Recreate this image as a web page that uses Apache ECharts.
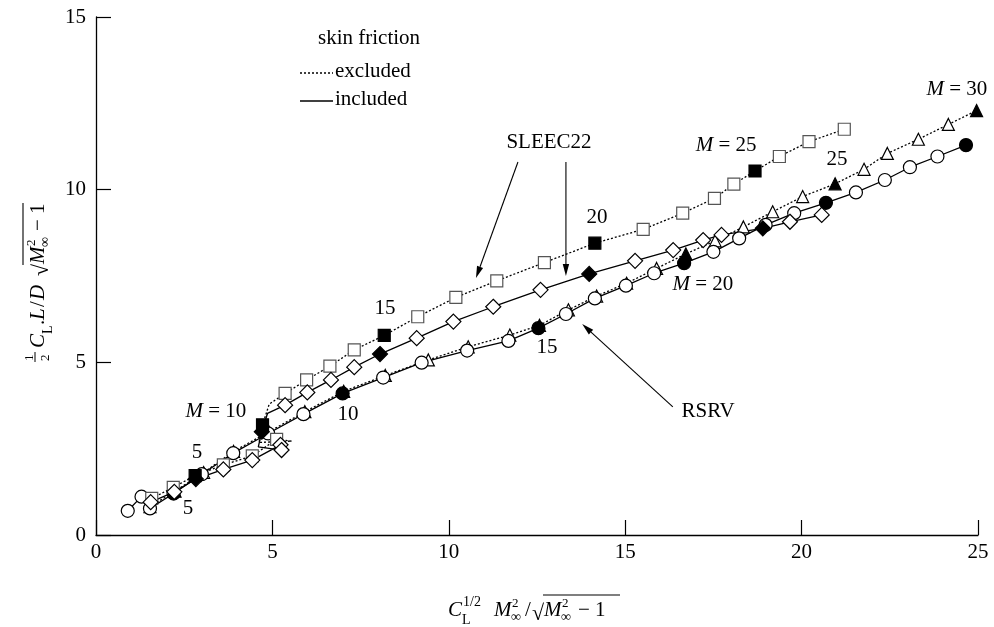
<!DOCTYPE html>
<html>
<head>
<meta charset="utf-8">
<script src="https://cdn.jsdelivr.net/npm/echarts@6/dist/echarts.min.js"></script>
<style>
  html, body { margin: 0; padding: 0; background: #fff; }
  #chart { width: 994px; height: 627px; }
</style>
</head>
<body>
<div id="chart"></div>
<script>
// Abscissa: C_L^{1/2} M^2 / sqrt(M^2 - 1); ordinate: 1/2 C_L L/D sqrt(M^2 - 1).
// Each curve is a Mach sweep; every 5th Mach number gets a filled marker.
// A null Mach entry is a bare vertex of the curve (no marker).

// SLEEC22, skin friction excluded (dotted, squares)
const sleecExclX    = [1.58, 2.19, 2.81, 3.61, 4.43, 5.12, 5.55, 4.62, 4.72, 4.91, 5.36, 5.97, 6.63, 7.32, 8.17, 9.12, 10.2, 11.36, 12.71, 14.14, 15.51, 16.63, 17.53, 18.08, 18.68, 19.37, 20.21, 21.21];
const sleecExclY    = [1.06, 1.38, 1.72, 2.03, 2.29, 2.77, 2.72, 2.68, 3.19, 3.79, 4.10, 4.49, 4.89, 5.36, 5.78, 6.32, 6.88, 7.36, 7.89, 8.45, 8.85, 9.32, 9.75, 10.16, 10.54, 10.96, 11.39, 11.75];
const sleecExclMach = [3, 4, 5, 6, 7, 8, null, null, 10, null, 11, 12, 13, 14, 15, 16, 17, 18, 19, 20, 21, 22, 23, 24, 25, 26, 27, 28];

// SLEEC22, skin friction included (solid, diamonds)
const sleecInclX    = [1.55, 2.22, 2.83, 3.61, 4.43, 5.23, 5.26, 4.60, 4.70, 4.86, 5.36, 5.99, 6.66, 7.32, 8.05, 9.09, 10.13, 11.26, 12.60, 13.98, 15.28, 16.36, 17.21, 17.73, 18.90, 19.67, 20.57];
const sleecInclY    = [0.95, 1.25, 1.62, 1.90, 2.17, 2.61, 2.46, 2.55, 2.99, 3.52, 3.76, 4.13, 4.49, 4.86, 5.24, 5.70, 6.18, 6.61, 7.10, 7.56, 7.94, 8.25, 8.54, 8.69, 8.88, 9.07, 9.27];
const sleecInclMach = [3, 4, 5, 6, 7, 8, 9, null, 10, null, 11, 12, 13, 14, 15, 16, 17, 18, 19, 20, 21, 22, 23, 24, 25, 26, 27];

// RSRV, skin friction excluded (dotted, triangles)
const rsrvExclX    = [1.53, 2.24, 3.05, 3.90, 4.90, 5.92, 7.02, 8.20, 9.42, 10.55, 11.73, 12.57, 13.39, 14.19, 15.04, 15.89, 16.72, 17.55, 18.35, 19.18, 20.03, 20.95, 21.77, 22.43, 23.31, 24.16, 24.96];
const rsrvExclY    = [0.82, 1.27, 1.81, 2.42, 2.99, 3.57, 4.16, 4.62, 5.07, 5.45, 5.79, 6.07, 6.52, 6.92, 7.29, 7.72, 8.14, 8.52, 8.92, 9.36, 9.80, 10.17, 10.59, 11.05, 11.46, 11.89, 12.29];
const rsrvExclMach = [4, 5, 6, 7, 8, 9, 10, 11, 12, 13, 14, 15, 16, 17, 18, 19, 20, 21, 22, 23, 24, 25, 26, 27, 28, 29, 30];

// RSRV, skin friction included (solid, circles)
const rsrvInclX    = [0.90, 1.29, 1.53, 2.20, 3.00, 3.89, 4.88, 5.88, 6.99, 8.14, 9.23, 10.52, 11.69, 12.54, 13.32, 14.14, 15.02, 15.82, 16.67, 17.50, 18.23, 18.98, 19.79, 20.69, 21.54, 22.36, 23.07, 23.85, 24.66];
const rsrvInclY    = [0.70, 1.11, 0.77, 1.20, 1.76, 2.37, 2.94, 3.50, 4.10, 4.56, 4.99, 5.34, 5.62, 5.99, 6.40, 6.85, 7.22, 7.58, 7.87, 8.20, 8.59, 8.98, 9.32, 9.62, 9.92, 10.28, 10.65, 10.96, 11.29];
const rsrvInclMach = [2, 3, 4, 5, 6, 7, 8, 9, 10, 11, 12, 13, 14, 15, 16, 17, 18, 19, 20, 21, 22, 23, 24, 25, 26, 27, 28, 29, 30];

// Axis ranges and ticks
const xTicks = [0, 5, 10, 15, 20, 25];
const yTicks = [0, 5, 10, 15];

// Mach annotations: [text, x, y]
const machNotes = [
  ['{i|M} = 10', 3.40, 3.59],
  ['15', 8.19, 6.55],
  ['20', 14.20, 9.18],
  ['{i|M} = 25', 17.86, 11.29],
  ['5', 2.86, 2.40],
  ['5', 2.61, 0.78],
  ['10', 7.14, 3.48],
  ['15', 12.78, 5.42],
  ['{i|M} = 20', 17.20, 7.24],
  ['25', 21.00, 10.86],
  ['{i|M} = 30', 24.40, 12.89]
];
// Vehicle names with their arrows: [text, x, y, arrows [[x0,y0,x1,y1], ...]]
const vehicleNotes = [
  ['SLEEC22', 12.84, 11.38, [[11.96, 10.80, 10.77, 7.44], [13.32, 10.80, 13.32, 7.50]]],
  ['RSRV', 17.35, 3.59, [[16.35, 3.71, 13.78, 6.11]]]
];

const SERIF = '"Liberation Serif", "DejaVu Serif", serif';

function curve(xs, ys, machs, symbol, size, dashed, border) {
  return {
    type: 'line',
    symbol: symbol,
    symbolSize: size,
    showAllSymbol: true,
    animation: false,
    lineStyle: { color: '#000', width: 1.3, type: dashed ? [2, 2] : 'solid' },
    itemStyle: { color: '#fff', borderColor: border, borderWidth: 1.2 },
    data: xs.map(function (x, i) {
      const m = machs[i];
      const item = { value: [x, ys[i]] };
      if (m === null) item.symbol = 'none';
      else if (m % 5 === 0) item.itemStyle = { color: '#000', borderColor: '#000' };
      return item;
    })
  };
}

const chart = echarts.init(document.getElementById('chart'), null, { renderer: 'canvas' });

const axisCommon = {
  type: 'value',
  axisLine: { show: true, onZero: false, lineStyle: { color: '#000', width: 1.3 } },
  axisTick: { show: true, inside: true, length: 15, lineStyle: { color: '#000', width: 1.2 } },
  axisLabel: { color: '#000', fontFamily: SERIF, fontSize: 21 },
  splitLine: { show: false }
};

chart.setOption({
  backgroundColor: '#fff',
  animation: false,
  grid: { left: 96, right: 16, top: 17, bottom: 92, containLabel: false, outerBoundsMode: 'none' },
  xAxis: Object.assign({}, axisCommon, {
    min: xTicks[0], max: xTicks[xTicks.length - 1], interval: xTicks[1] - xTicks[0],
    axisLabel: Object.assign({}, axisCommon.axisLabel, { margin: 7 })
  }),
  yAxis: Object.assign({}, axisCommon, {
    min: yTicks[0], max: yTicks[yTicks.length - 1], interval: yTicks[1] - yTicks[0],
    axisLabel: Object.assign({}, axisCommon.axisLabel, { margin: 10 })
  }),
  series: [
    curve(rsrvExclX, rsrvExclY, rsrvExclMach, 'triangle', 12, true, '#000'),
    curve(rsrvInclX, rsrvInclY, rsrvInclMach, 'circle', 13, false, '#000'),
    curve(sleecExclX, sleecExclY, sleecExclMach, 'rect', 12, true, '#555'),
    curve(sleecInclX, sleecInclY, sleecInclMach, 'diamond', 15, false, '#000')
  ]
});

// Build a math-style label out of positioned text pieces.
// piece: [text, dx, dy, fontSize, italic]; dy is measured to the text bottom.
function mathPieces(pieces) {
  return pieces.map(function (p) {
    return {
      type: 'text', x: p[1], y: p[2],
      style: {
        text: p[0], fill: '#000', fontFamily: SERIF, fontSize: p[3],
        fontStyle: p[4] ? 'italic' : 'normal', align: 'left', verticalAlign: 'bottom'
      }
    };
  });
}

function arrow(p0, p1) {
  const dx = p1[0] - p0[0], dy = p1[1] - p0[1];
  const len = Math.sqrt(dx * dx + dy * dy);
  const ux = dx / len, uy = dy / len;
  const hl = 12, hw = 3.2;
  const bx = p1[0] - ux * hl, by = p1[1] - uy * hl;
  return [
    { type: 'line', shape: { x1: p0[0], y1: p0[1], x2: bx, y2: by }, style: { stroke: '#000', lineWidth: 1.1 } },
    { type: 'polygon', shape: { points: [[p1[0], p1[1]], [bx - uy * hw, by + ux * hw], [bx + uy * hw, by - ux * hw]] }, style: { fill: '#000' } }
  ];
}

const px = function (x, y) { return chart.convertToPixel({ gridIndex: 0 }, [x, y]); };

const graphics = [];

// Mach labels
machNotes.forEach(function (n) {
  const p = px(n[1], n[2]);
  graphics.push({
    type: 'text', x: p[0], y: p[1],
    style: {
      text: n[0], fill: '#000', fontFamily: SERIF, fontSize: 21,
      align: 'center', verticalAlign: 'middle',
      rich: { i: { fontStyle: 'italic', fontFamily: SERIF, fontSize: 21 } }
    }
  });
});

// Vehicle names and arrows
vehicleNotes.forEach(function (n) {
  const p = px(n[1], n[2]);
  graphics.push({
    type: 'text', x: p[0], y: p[1],
    style: { text: n[0], fill: '#000', fontFamily: SERIF, fontSize: 21, align: 'center', verticalAlign: 'middle' }
  });
  n[3].forEach(function (a) {
    arrow(px(a[0], a[1]), px(a[2], a[3])).forEach(function (g) { graphics.push(g); });
  });
});

// Line-style key
graphics.push({
  type: 'group', x: 300, y: 0,
  children: [
    { type: 'text', x: 18, y: 38, style: { text: 'skin friction', fill: '#000', fontFamily: SERIF, fontSize: 21, verticalAlign: 'middle' } },
    { type: 'line', shape: { x1: 0, y1: 73, x2: 33, y2: 73 }, style: { stroke: '#000', lineWidth: 1.3, lineDash: [2, 2] } },
    { type: 'text', x: 35, y: 71, style: { text: 'excluded', fill: '#000', fontFamily: SERIF, fontSize: 21, verticalAlign: 'middle' } },
    { type: 'line', shape: { x1: 0, y1: 101, x2: 33, y2: 101 }, style: { stroke: '#000', lineWidth: 1.3 } },
    { type: 'text', x: 35, y: 99, style: { text: 'included', fill: '#000', fontFamily: SERIF, fontSize: 21, verticalAlign: 'middle' } }
  ]
});

// x-axis title: C_L^{1/2} M_inf^2 / sqrt(M_inf^2 - 1)
graphics.push({
  type: 'group', x: 448, y: 621,
  children: mathPieces([
    ['C', 0, 0, 21, true],
    ['L', 14, 6, 14, false],
    ['1/2', 15, -12, 14, false],
    ['M', 46, 0, 21, true],
    ['2', 64, -11, 13, false],
    ['∞', 63, 3, 14, false],
    ['/', 77, 0, 21, false],
    ['√', 84, 4, 22, false],
    ['M', 96, 0, 21, true],
    ['2', 114, -11, 13, false],
    ['∞', 113, 3, 14, false],
    ['− 1', 130, 0, 21, false]
  ]).concat([
    { type: 'line', shape: { x1: 95, y1: -26, x2: 172, y2: -26 }, style: { stroke: '#000', lineWidth: 1.1 } }
  ])
});

// y-axis title: 1/2 C_L . L/D sqrt(M_inf^2 - 1), read bottom to top
graphics.push({
  type: 'group', x: 49, y: 363, rotation: Math.PI / 2,
  children: mathPieces([
    ['1', 2, -13, 13, false],
    ['2', 2, 3, 13, false],
    ['C', 15, 0, 21, true],
    ['L', 29, 6, 14, false],
    ['.', 38, 0, 21, false],
    ['L', 43, 0, 21, true],
    ['/', 56, 0, 21, false],
    ['D', 63, 0, 21, true],
    ['√', 87, 4, 22, false],
    ['M', 99, 0, 21, true],
    ['2', 117, -11, 13, false],
    ['∞', 116, 3, 14, false],
    ['− 1', 132, 0, 21, false]
  ]).concat([
    { type: 'line', shape: { x1: 1, y1: -14, x2: 11, y2: -14 }, style: { stroke: '#000', lineWidth: 1 } },
    { type: 'line', shape: { x1: 98, y1: -26, x2: 160, y2: -26 }, style: { stroke: '#000', lineWidth: 1.1 } }
  ])
});

chart.setOption({ graphic: { elements: graphics } });
</script>
</body>
</html>
